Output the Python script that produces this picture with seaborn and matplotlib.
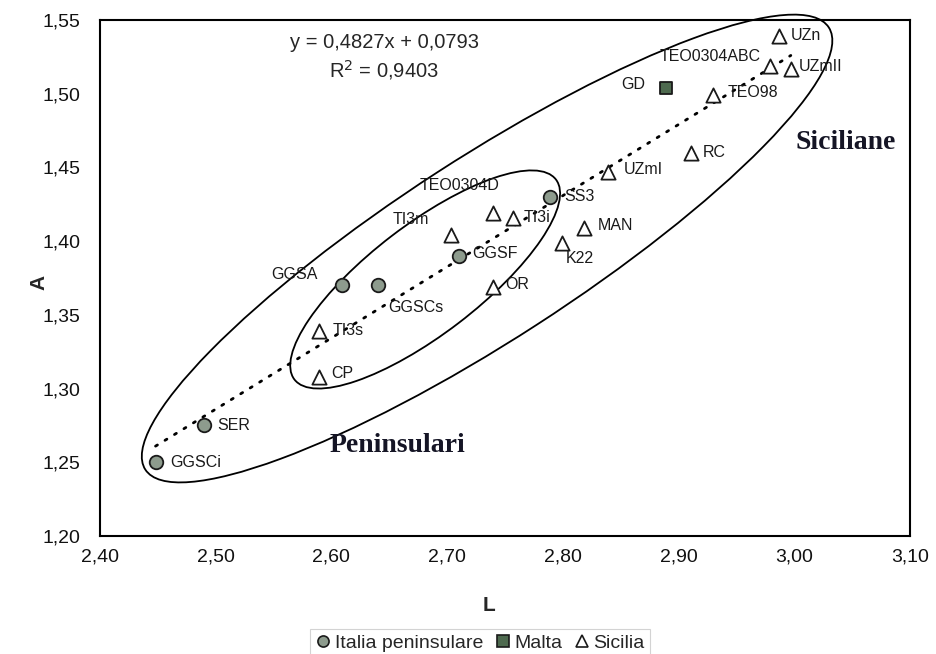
import numpy as np
import pandas as pd
import matplotlib
matplotlib.use("Agg")
import matplotlib.pyplot as plt
import matplotlib.transforms as mtransforms
from matplotlib.patches import Ellipse
from matplotlib.ticker import FuncFormatter, MultipleLocator
import seaborn as sns

# ---- data -------------------------------------------------------------
names = ["GGSCi", "SER", "GGSA", "GGSCs", "GGSF", "SS3",
         "GD",
         "CP", "TI3s", "TI3m", "TEO0304D", "TI3i", "OR", "K22", "MAN",
         "UZmI", "RC", "TEO98", "TEO0304ABC", "UZmII", "UZn"]
L_vals = [2.448, 2.490, 2.609, 2.640, 2.710, 2.789,
          2.889,
          2.589, 2.589, 2.703, 2.740, 2.757, 2.740, 2.799, 2.818,
          2.839, 2.911, 2.930, 2.979, 2.997, 2.987]
A_vals = [1.250, 1.275, 1.370, 1.370, 1.390, 1.430,
          1.504,
          1.308, 1.339, 1.404, 1.419, 1.416, 1.369, 1.399, 1.409,
          1.447, 1.460, 1.499, 1.519, 1.517, 1.539]
groups = ["Italia peninsulare"] * 6 + ["Malta"] + ["Sicilia"] * 14

slope, intercept, r2 = 0.4827, 0.0793, 0.9403

# label placement (offset in pixels, horizontal alignment)
label_offsets = {
    "GGSCi": (15, 0, "left"), "SER": (13, 0, "left"),
    "GGSA": (-24, 11, "right"), "GGSCs": (11, -22, "left"),
    "GGSF": (14, 2, "left"), "SS3": (14, 0, "left"),
    "GD": (-21, 3, "right"), "CP": (13, 3, "left"),
    "TI3s": (14, 1, "left"), "TI3m": (-22, 16, "right"),
    "TEO0304D": (6, 28, "right"), "TI3i": (11, 0, "left"),
    "OR": (12, 2, "left"), "K22": (4, -16, "left"),
    "MAN": (14, 2, "left"), "UZmI": (16, 2, "left"),
    "RC": (11, 0, "left"), "TEO98": (14, 3, "left"),
    "TEO0304ABC": (-9, 9, "right"), "UZmII": (8, 2, "left"),
    "UZn": (12, 1, "left"),
}

df = pd.DataFrame({"name": names, "L": L_vals, "A": A_vals, "group": groups})

# ---- style ------------------------------------------------------------
sns.set_style("white")
plt.rcParams["font.family"] = ["Liberation Sans", "DejaVu Sans"]

fig = plt.figure(figsize=(9.36, 6.54), dpi=100)
ax = fig.add_axes([100 / 936, 1 - 536 / 654, 810 / 936, 516 / 654])

styles = {
    "Italia peninsulare": dict(marker="o", color="#8d9b8d", s=95),
    "Malta": dict(marker="s", color="#4e6a4f", s=80),
    "Sicilia": dict(marker="^", color="white", s=105),
}
for g, st in styles.items():
    sub = df[df["group"] == g]
    sns.scatterplot(data=sub, x="L", y="A", marker=st["marker"], color=st["color"],
                    s=st["s"], edgecolor="#1a1a1a", linewidth=1.3, ax=ax,
                    label=g, zorder=4, legend=False)

# trend line from the stated equation
xs = np.array([df["L"].min(), df["L"].max()])
ax.plot(xs, slope * xs + intercept, color="black", lw=2.0,
        linestyle=(0, (0.8, 3.2)), dash_capstyle="round", zorder=3)

# group ellipses
def draw_ellipse(cx, cy, a_in, b_in, angle):
    tr = fig.dpi_scale_trans + mtransforms.ScaledTranslation(cx, cy, ax.transData)
    e = Ellipse((0, 0), width=2 * a_in, height=2 * b_in, angle=angle,
                transform=tr, fill=False, edgecolor="black", lw=1.3,
                clip_on=False, zorder=2)
    ax.add_patch(e)

draw_ellipse(2.7345, 1.395, 4.07, 0.91, 32.9)
draw_ellipse(2.681, 1.374, 1.646, 0.549, 37.4)

# point labels
for _, row in df.iterrows():
    dx, dy, ha = label_offsets[row["name"]]
    ax.annotate(row["name"], (row["L"], row["A"]), xytext=(dx, dy),
                textcoords="offset pixels", ha=ha, va="center",
                fontsize=11.5, color="#1a1a1a", zorder=5)

# equation
eq = f"y = {slope:.4f}x + {intercept:.4f}".replace(".", ",")
ax.text(0.351, 0.957, eq, transform=ax.transAxes, ha="center", va="center",
        fontsize=14.5)
ax.text(0.351, 0.903, f"R$^2$ = {r2:.4f}".replace(".", ","), transform=ax.transAxes,
        ha="center", va="center", fontsize=14.5)

# group names
ax.text(0.921, 0.762, "Siciliane", transform=ax.transAxes, ha="center",
        va="center", fontsize=20, fontweight="bold", family="Liberation Serif",
        color="#151525")
ax.text(0.367, 0.176, "Peninsulari", transform=ax.transAxes, ha="center",
        va="center", fontsize=20, fontweight="bold", family="Liberation Serif",
        color="#151525")

# axes
ax.set_xlim(2.40, 3.10)
ax.set_ylim(1.20, 1.55)
ax.xaxis.set_major_locator(MultipleLocator(0.10))
ax.yaxis.set_major_locator(MultipleLocator(0.05))
fmt = FuncFormatter(lambda v, p: f"{v:.2f}".replace(".", ","))
ax.xaxis.set_major_formatter(fmt)
ax.yaxis.set_major_formatter(fmt)
ax.tick_params(axis="x", direction="in", length=3, width=0.8, pad=9,
               labelsize=14, colors="#222222")
ax.tick_params(axis="y", direction="out", length=4, width=0.8, pad=10,
               labelsize=14, colors="#222222")
ax.tick_params(axis="both", labelcolor="#111111")
for sp in ax.spines.values():
    sp.set_visible(True)
    sp.set_color("black")
    sp.set_linewidth(1.5)

ax.set_xlabel("L", fontsize=15, fontweight="bold")
ax.set_ylabel("A", fontsize=15, fontweight="bold")
ax.xaxis.set_label_coords(0.48, -0.117)
ax.yaxis.set_label_coords(-0.064, 0.492)

# legend
handles = [
    plt.Line2D([], [], ls="none", marker="o", markersize=8, markerfacecolor="#8d9b8d",
               markeredgecolor="#1a1a1a", markeredgewidth=1.2),
    plt.Line2D([], [], ls="none", marker="s", markersize=8, markerfacecolor="#4e6a4f",
               markeredgecolor="#1a1a1a", markeredgewidth=1.2),
    plt.Line2D([], [], ls="none", marker="^", markersize=9, markerfacecolor="white",
               markeredgecolor="#1a1a1a", markeredgewidth=1.2),
]
leg = fig.legend(handles, list(styles.keys()), loc="center",
                 bbox_to_anchor=(480 / 936, 1 - 643 / 654), ncol=3,
                 fontsize=14, frameon=True, handlelength=0.8, handletextpad=0.2,
                 columnspacing=0.6, borderpad=0.25, fancybox=False)
leg.get_frame().set_edgecolor("#c8c8c8")
leg.get_frame().set_linewidth(0.8)

fig.savefig("out.png", dpi=100)
